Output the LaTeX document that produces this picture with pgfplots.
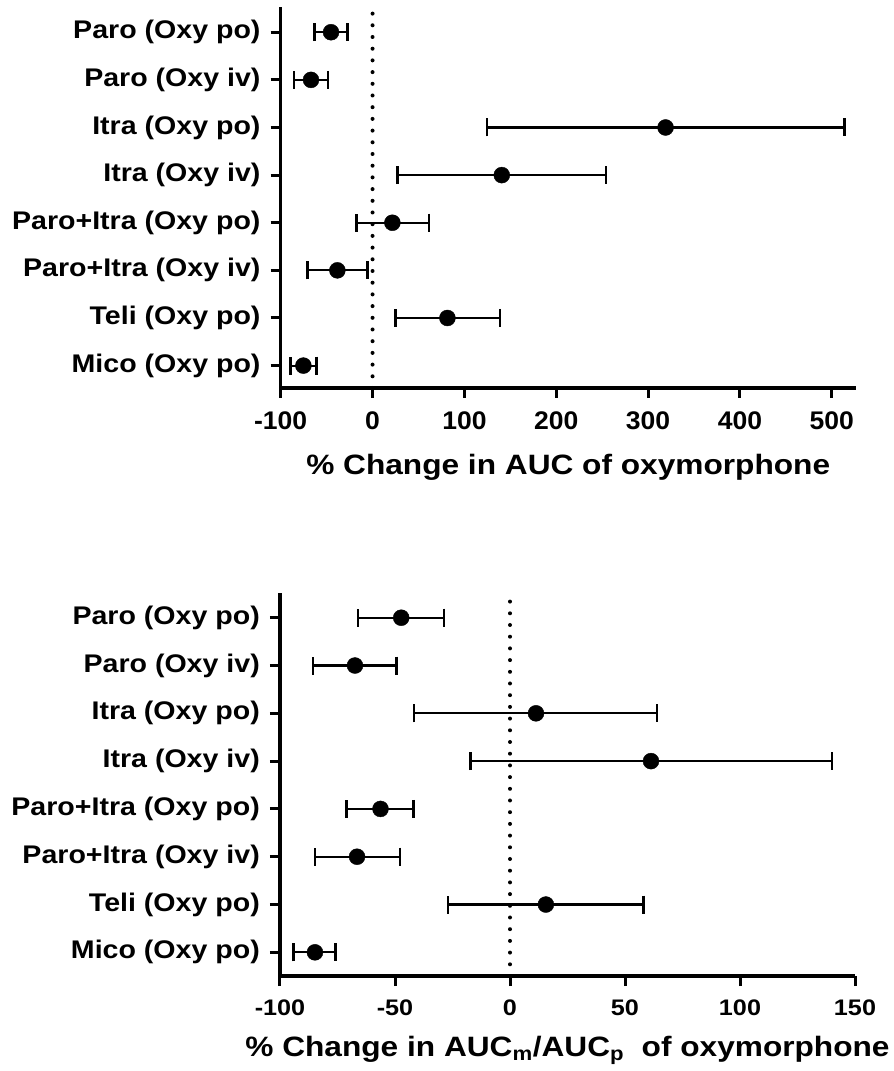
\documentclass[border=0pt]{standalone}
\usepackage{pgfplots}
\pgfplotsset{compat=1.18}
\usepackage{pgfplotstable}
\usepackage{fontspec}
\setmainfont{Liberation Sans}
\newfontfamily\catfont{Liberation Sans}[FakeStretch=1.12]
\newfontfamily\tickfontA{Liberation Sans}[FakeStretch=1.04]
\newfontfamily\tickfontB{Liberation Sans}[FakeStretch=1.12]
\newfontfamily\labfont{Liberation Sans}[FakeStretch=1.13]

% y: row position (8 = top), x: point estimate, lo/hi: interval ends
\pgfplotstableread{
y x lo hi
8 -45.2 -63.4 -27.4
7 -67.0 -85.5 -48.5
6 319.0 124.7 513.6
5 140.7 27.4 254.0
4 21.6 -17.6 61.5
3 -38.3 -71.0 -5.6
2 81.5 24.9 138.6
1 -75.3 -89.5 -60.8
}\topdata
\pgfplotstableread{
y x lo hi
8 -47.3 -66.1 -28.8
7 -67.4 -85.6 -49.4
6 11.3 -41.8 64.0
5 61.3 -17.2 140.0
4 -56.3 -71.0 -42.0
3 -66.5 -84.8 -47.9
2 15.6 -26.9 58.0
1 -84.8 -94.2 -75.8
}\botdata

\pgfplotsset{
  forest/.style={
    scale only axis, width=575pt,
    axis x line=bottom, axis y line=left,
    axis line style={line width=3.5pt, -, black},
    tick align=outside, major tick length=10pt,
    tick style={line width=3pt, black},
    ytick={1,...,8},
    yticklabels={Mico (Oxy po),Teli (Oxy po),Paro+Itra (Oxy iv),Paro+Itra (Oxy po),Itra (Oxy iv),Itra (Oxy po),Paro (Oxy iv),Paro (Oxy po)},
    yticklabel style={font=\catfont\bfseries\fontsize{25.5}{30}\selectfont, inner sep=3pt, xshift=-7pt},
    clip=false,
  },
  ptstyle/.style={only marks, mark=*, mark size=8pt, black,
    error bars/.cd, x dir=both, x explicit,
    error bar style={line width=2.2pt, black},
    error mark options={rotate=90, mark size=9pt, line width=2.5pt, black}},
}

\begin{document}
\begin{tikzpicture}
\useasboundingbox (0pt,0pt) rectangle (894pt,1071pt);
\begin{axis}[forest, at={(280.7pt,683pt)}, anchor=south west,
  height=381pt, xmin=-100, xmax=526, ymin=0.53, ymax=8.53,
  xtick={-100,0,100,200,300,400,500},
  xticklabels={-100,0,100,200,300,400,500},
  xticklabel style={font=\tickfontA\bfseries\fontsize{25.5}{30}\selectfont, yshift=-10pt},
  xlabel style={font=\labfont\bfseries\fontsize{28}{33}\selectfont, yshift=-18pt},
  xlabel={\% Change in AUC of oxymorphone}]
\addplot[black, line width=4pt, line cap=round, dash pattern=on 0pt off 11.7pt] coordinates {(0,0.53) (0,8.53)};
\addplot[ptstyle] table[x=x, y=y, x error plus expr=\thisrow{hi}-\thisrow{x}, x error minus expr=\thisrow{x}-\thisrow{lo}] {\topdata};
\end{axis}
\begin{axis}[forest, at={(280pt,95pt)}, anchor=south west,
  height=383pt, xmin=-100, xmax=150, ymin=0.505, ymax=8.517,
  xtick={-100,-50,0,50,100,150},
  xticklabels={-100,-50,0,50,100,150},
  xticklabel style={font=\tickfontB\bfseries\fontsize{22.5}{27}\selectfont, yshift=-10pt},
  xlabel style={font=\labfont\bfseries\fontsize{28}{33}\selectfont, yshift=-14pt},
  xlabel={\% Change in AUC\textsubscript{m}/AUC\textsubscript{p}\ \ of oxymorphone}]
\addplot[black, line width=4pt, line cap=round, dash pattern=on 0pt off 11.7pt] coordinates {(0,0.505) (0,8.517)};
\addplot[ptstyle] table[x=x, y=y, x error plus expr=\thisrow{hi}-\thisrow{x}, x error minus expr=\thisrow{x}-\thisrow{lo}] {\botdata};
\end{axis}
\end{tikzpicture}
\end{document}
